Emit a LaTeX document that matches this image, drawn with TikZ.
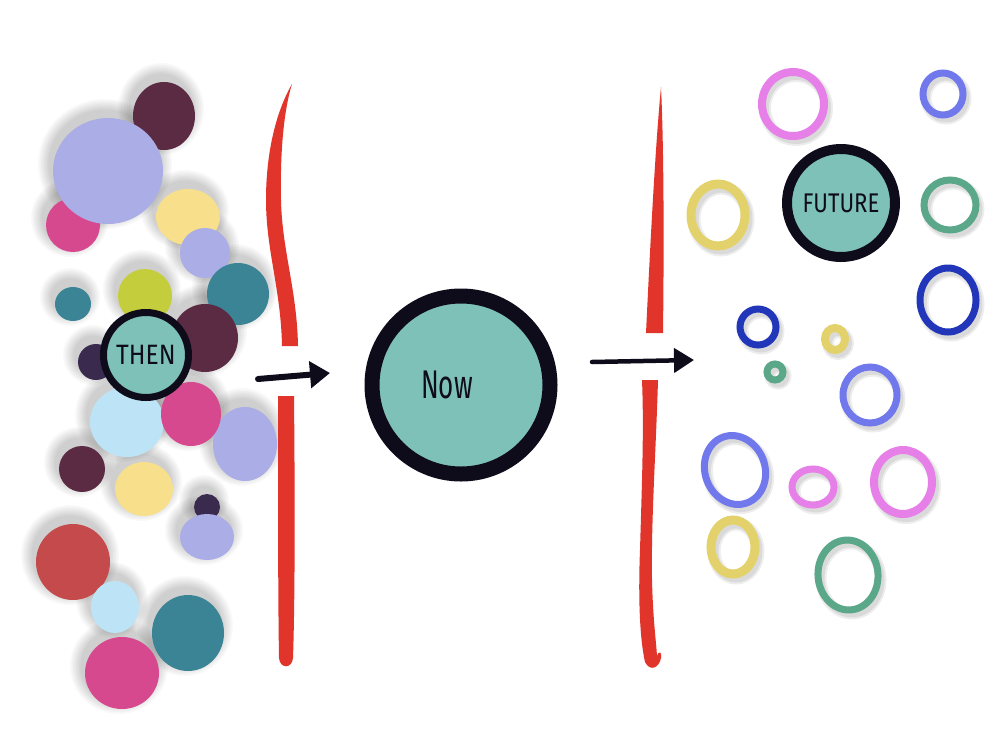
\documentclass[tikz,border=0pt]{standalone}
\usepackage{fontspec}
\usepackage{graphicx}
\setmainfont{Fira Sans}
\usetikzlibrary{arrows.meta}
\definecolor{cMaroon}{HTML}{5B2A43}
\definecolor{cLav}{HTML}{ABADE6}
\definecolor{cPink}{HTML}{D7498E}
\definecolor{cYel}{HTML}{F7DF8B}
\definecolor{cTeal}{HTML}{3A8496}
\definecolor{cLime}{HTML}{C4CE3C}
\definecolor{cPurp}{HTML}{3A2A4D}
\definecolor{cSky}{HTML}{BDE4F6}
\definecolor{cRed}{HTML}{C54A4B}
\definecolor{cMint}{HTML}{7EC1B9}
\definecolor{cInk}{HTML}{0E0C1A}
\definecolor{cLine}{HTML}{E1352B}
\definecolor{rPink}{HTML}{E67FE8}
\definecolor{rPeri}{HTML}{7078EC}
\definecolor{rYel}{HTML}{E3D26B}
\definecolor{rGreen}{HTML}{5BA78A}
\definecolor{rBlue}{HTML}{2136B9}
\tikzset{
  ringnode/.style={circle, fill=cMint, draw=cInk, inner sep=0pt, text=cInk},
  redbar/.style={fill=cLine},
  pusharrow/.style={draw=cInk, line cap=round},
}
\def\blobsL{73/225/27/27/cPink, 164/116/31/34/cMaroon, 108/171/55/53/cLav,
 188/217/32/28/cYel, 205/253/25/25/cLav, 238/294/31/31/cTeal, 73/304/18/17/cTeal,
 145/296/27/27/cLime, 205/338/33/34/cMaroon, 96/362/18/18/cPurp, 127/422/37/35/cSky,
 245/444/32/37/cLav, 191/414/30/32/cPink, 82/469/23/23/cMaroon, 144/489/29/27/cYel,
 207/507/13/13/cPurp, 207/537/27/23/cLav, 73/562/37/38/cRed, 115/607/24/26/cSky,
 188/633/36/38/cTeal, 122/673/37/36/cPink}
\def\ringsR{793/104/31/32/rPink/8/0, 943/94/20/21/rPeri/7/0, 718/215/27/31/rYel/9/0,
 950/205/26/25/rGreen/7/0, 948/300/28/32/rBlue/7/0, 758/327/18/18/rBlue/7/0,
 835/339/10/11/rYel/8/0, 775/372/8/8/rGreen/7/0, 870/395/27/28/rPeri/7/0,
 735/470/30/35/rPeri/7/20, 813/487/21/18/rPink/7/0, 903/482/29/32/rPink/8/0,
 733/547/22/27/rYel/9/0, 848/575/30/35/rGreen/7/5}
\begin{document}
\begin{tikzpicture}[x=1pt,y=-1pt]
\useasboundingbox (0,0) rectangle (1000,750);
\fill[white] (0,0) rectangle (1000,750);
% soft shadows of the left blobs
\foreach \x/\y/\a/\b/\c in \blobsL {
  \foreach \k in {1.5,3,...,12}
    \fill[black,opacity=.022] (\x-3,\y-7) ellipse [x radius=\a+\k, y radius=\b+\k];
}
% left blobs
\foreach \x/\y/\a/\b/\c in \blobsL {
  \fill[\c] (\x,\y) ellipse [x radius=\a, y radius=\b];
}
% right rings: shadows then rings
\foreach \x/\y/\a/\b/\c/\w/\r in \ringsR {
  \draw[black,opacity=.07,line width=\w pt+4pt] (\x+3,\y+4) circle [x radius=\a, y radius=\b, rotate=\r];
  \draw[black,opacity=.08,line width=\w pt] (\x+3,\y+4) circle [x radius=\a, y radius=\b, rotate=\r];
}
\foreach \x/\y/\a/\b/\c/\w/\r in \ringsR {
  \draw[\c,line width=\w pt] (\x,\y) circle [x radius=\a, y radius=\b, rotate=\r];
}
% red barriers
\fill[redbar] (292,84) .. controls (277,110) and (266,150) .. (266,200)
  .. controls (266,250) and (281,290) .. (282,346) -- (298,346)
  .. controls (297,290) and (282,250) .. (281,200)
  .. controls (280,150) and (284,110) .. (292,84) -- cycle;
\fill[redbar] (278,396) -- (294,396) .. controls (295,500) and (295,600) .. (293,658)
  .. controls (292,669) and (280,669) .. (279,658)
  .. controls (278,600) and (278,500) .. (278,396) -- cycle;
\fill[redbar] (661,87) .. controls (664,150) and (664,250) .. (663,333) -- (646,333)
  .. controls (650,250) and (655,150) .. (661,87) -- cycle;
\fill[redbar] (642,380) -- (658,380) .. controls (656,450) and (651,520) .. (652,580)
  .. controls (653,620) and (656,640) .. (657,656)
  .. controls (659,650) and (662,652) .. (661,658)
  .. controls (659,668) and (650,672) .. (645,662)
  .. controls (640,640) and (638,600) .. (640,550)
  .. controls (642,480) and (644,430) .. (642,380) -- cycle;
% main circles
\node[ringnode, minimum size=85pt, line width=7pt] (then) at (146,355)
  {\fontsize{28}{28}\selectfont\scalebox{.88}[1]{THEN}};
\node[ringnode, minimum size=178pt, line width=15pt] (now) at (461,385)
  {\fontsize{40}{40}\selectfont\hspace*{-28pt}\raisebox{-6pt}{\scalebox{.65}[1]{Now}}};
\node[ringnode, minimum size=108pt, line width=10pt] (future) at (841,203)
  {\fontsize{27}{27}\selectfont\scalebox{.82}[1]{FUTURE}};
% arrows
\coordinate (a1s) at (258,379);
\coordinate (a1e) at (330,373);
\coordinate (a2s) at (592,362);
\coordinate (a2e) at (694,360);
\draw[pusharrow, line width=6pt, -{Triangle[length=20pt,width=26pt]}] (a1s) -- (a1e);
\draw[pusharrow, line width=4.5pt, -{Triangle[length=20pt,width=24pt]}] (a2s) -- (a2e);
\end{tikzpicture}
\end{document}
